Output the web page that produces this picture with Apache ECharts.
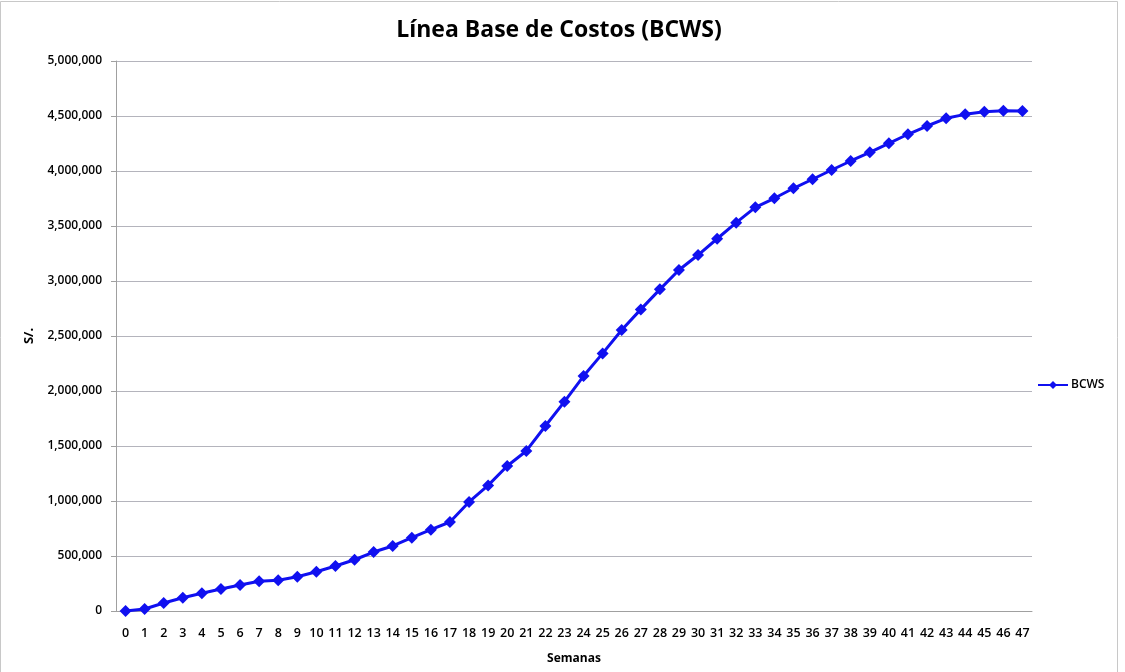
<!DOCTYPE html>
<html>
<head>
<meta charset="utf-8">
<script src="https://cdn.jsdelivr.net/npm/echarts@6/dist/echarts.min.js"></script>
<style>
    html, body { margin: 0; padding: 0; background: #fff; }
    #main { width: 1125px; height: 672px; }
</style>
</head>
<body>
<div id="main"></div>
<script>
// semanas 0..47
var semanas = ['0', '1', '2', '3', '4', '5', '6', '7', '8', '9', '10', '11', '12', '13', '14', '15',
    '16', '17', '18', '19', '20', '21', '22', '23', '24', '25', '26', '27', '28', '29', '30', '31',
    '32', '33', '34', '35', '36', '37', '38', '39', '40', '41', '42', '43', '44', '45', '46', '47'];
// BCWS acumulado (S/.)
var bcws = [0, 18000, 73000, 121000, 161000, 200000, 236000, 270000, 279000, 312000, 357000, 409000,
    466000, 536000, 591000, 666000, 739000, 809000, 991000, 1142000, 1318000, 1455000, 1682000, 1903000,
    2136000, 2342000, 2555000, 2742000, 2924000, 3100000, 3236000, 3384000, 3530000, 3670000, 3752000,
    3843000, 3925000, 4009000, 4091000, 4170000, 4252000, 4334000, 4409000, 4479000, 4515000, 4539000,
    4548000, 4546000];

var chart = echarts.init(document.getElementById('main'));
var fuente = 'Open Sans';
option = {
    backgroundColor: '#fff',
    animation: false,
    title: {
        text: 'Línea Base de Costos (BCWS)',
        left: 554,
        textAlign: 'center',
        top: 14,
        textStyle: {
            fontFamily: fuente,
            fontSize: 23,
            fontWeight: 'bold',
            color: '#000'
        }
    },
    legend: {
        data: ['BCWS'],
        orient: 'vertical',
        left: 1032,
        top: 374,
        itemWidth: 30,
        itemHeight: 10,
        itemGap: 4,
        textStyle: {
            fontFamily: fuente,
            fontSize: 12,
            fontWeight: 600,
            color: '#000',
            padding: [0, 0, 0, -2]
        }
    },
    grid: {
        left: 116,
        right: 93,
        top: 61,
        bottom: 61
    },
    xAxis: {
        type: 'category',
        data: semanas,
        boundaryGap: true,
        name: 'Semanas',
        nameLocation: 'middle',
        nameGap: 42,
        nameTextStyle: {
            fontFamily: fuente,
            fontSize: 12,
            fontWeight: 'bold',
            color: '#000'
        },
        axisLine: { lineStyle: { color: '#a0a0a0' } },
        axisTick: { show: false },
        axisLabel: {
            interval: 0,
            margin: 16,
            fontFamily: fuente,
            fontSize: 12.5,
            fontWeight: 600,
            color: '#000'
        }
    },
    yAxis: {
        type: 'value',
        min: 0,
        max: 5000000,
        interval: 500000,
        name: 'S/.',
        nameLocation: 'middle',
        nameGap: 80,
        nameTextStyle: {
            fontFamily: fuente,
            fontSize: 13,
            fontWeight: 'bold',
            color: '#000'
        },
        axisLine: { show: true, lineStyle: { color: '#a0a0a0' } },
        axisTick: { show: true, length: 5, lineStyle: { color: '#a0a0a0' } },
        splitLine: { lineStyle: { color: '#b4b4bc', width: 1 } },
        axisLabel: {
            margin: 14,
            fontFamily: fuente,
            fontSize: 12,
            fontWeight: 600,
            color: '#000',
            formatter: function (v) {
                return v.toString().replace(/\B(?=(\d{3})+(?!\d))/g, ',');
            }
        }
    },
    graphic: [{
        type: 'rect',
        shape: { x: 0.5, y: 1.5, width: 1117, height: 672 },
        style: { fill: 'none', stroke: '#c8c8c8', lineWidth: 1 },
        silent: true
    }],
    series: [{
        name: 'BCWS',
        type: 'line',
        data: bcws,
        symbol: 'diamond',
        symbolSize: 12,
        lineStyle: { color: '#1010f0', width: 3 },
        itemStyle: { color: '#1010f0' }
    }]
};
chart.setOption(option);
</script>
</body>
</html>
